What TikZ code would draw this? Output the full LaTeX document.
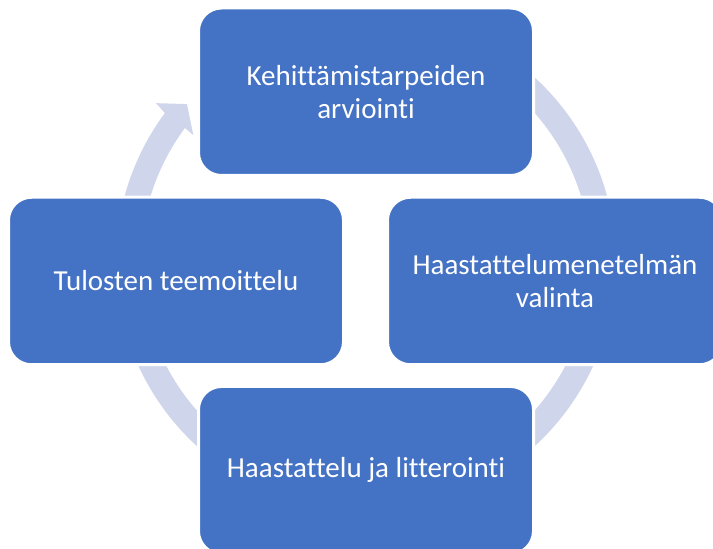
\documentclass[tikz,border=0pt]{standalone}
\usepackage{fontspec}
\setmainfont{Carlito}[RawFeature={-liga;-clig}]
\definecolor{boxblue}{HTML}{4472C4}
\definecolor{ringtint}{HTML}{CFD5EA}
\begin{document}
\begin{tikzpicture}[x=1pt,y=1pt,
  stage/.style={draw=white, line width=3pt, fill=boxblue, rounded corners=23pt,
    minimum width=335pt, minimum height=167.5pt, inner sep=0pt,
    text=white, align=center, font=\fontsize{29}{33}\selectfont},
  cyclering/.style={fill=ringtint}]
\useasboundingbox (0,0) rectangle (713,549);
\clip (0,0) rectangle (713,549);

% centre of the circular arrow behind the four stages
\coordinate (C) at (365.8,287.2);

% circular arrow: outer rim, arrow head, inner rim
\path[cyclering]
  ([shift={(90:250)}]C) arc[start angle=90, end angle=-216.5, radius=250]
  -- ([shift={(-217.1:263)}]C)
  -- ([shift={(-221.4:238.5)}]C)
  -- ([shift={(-216.3:214)}]C)
  -- ([shift={(-216.5:225)}]C)
  arc[start angle=-216.5, end angle=90, radius=225]
  -- cycle;

% the four stages of the cycle
\node[stage] (arvio)  at (366,457.25) {Kehittämistarpeiden\\arviointi};
\node[stage] (valinta) at (555,268) {Haastattelumenetelmän\\valinta};
\node[stage] (haast)  at (366,78.75) {Haastattelu ja litterointi};
\node[stage] (teema)  at (176,268) {Tulosten teemoittelu};
\end{tikzpicture}
\end{document}
